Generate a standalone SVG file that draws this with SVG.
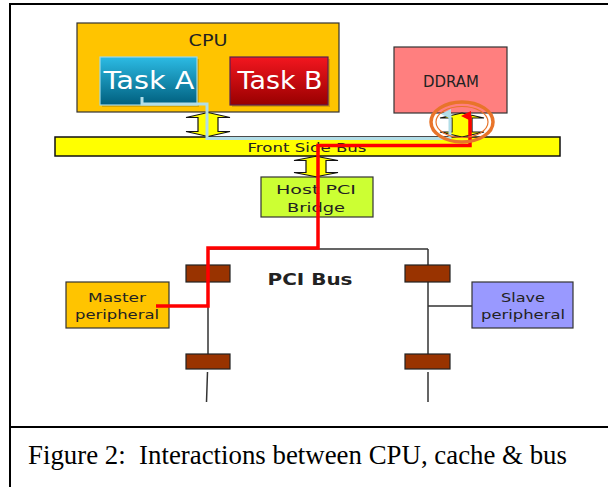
<svg xmlns="http://www.w3.org/2000/svg" width="608" height="487" viewBox="0 0 608 487">
  <defs>
    <linearGradient id="gradA" x1="0" y1="0" x2="0" y2="1">
      <stop offset="0" stop-color="#2CBBE4"/>
      <stop offset="1" stop-color="#005F7E"/>
    </linearGradient>
    <linearGradient id="gradB" x1="0" y1="0" x2="0" y2="1">
      <stop offset="0" stop-color="#F3161F"/>
      <stop offset="1" stop-color="#980000"/>
    </linearGradient>
    <marker id="headRed" viewBox="0 0 10 10" refX="5" refY="9" markerWidth="10" markerHeight="10" markerUnits="userSpaceOnUse" orient="auto-start-reverse">
      <path d="M0,10 L5,0 L10,10 Z" fill="#FF0000"/>
    </marker>
    <marker id="headBlue" viewBox="0 0 10 10" refX="5" refY="9" markerWidth="10" markerHeight="10" markerUnits="userSpaceOnUse" orient="auto-start-reverse">
      <path d="M0,10 L5,0 L10,10 Z" fill="#B2DEE8"/>
    </marker>
    <!-- bidirectional block arrow, centred on 0,0, 24 high -->
    <polygon id="udArrow" points="0,-12 -22,-7 -10,-7 -10,7 -22,7 0,12 22,7 10,7 10,-7 22,-7"/>
  </defs>
  <style>
    .frame { fill: none; stroke: #000; stroke-width: 2; }
    .box { stroke: #333; stroke-width: 1.2; }
    .lbl { font-family: "DejaVu Sans", Verdana, sans-serif; fill: #222; text-anchor: middle; }
    .task { font-family: "DejaVu Sans", Verdana, sans-serif; fill: #FFFFFF; font-size: 24px; text-anchor: middle; }
    .bus { stroke: #333; stroke-width: 1.5; fill: none; }
    .stub { fill: #993300; stroke: #222; stroke-width: 1.2; }
    .dbl { fill: #FFFF00; stroke: #111; stroke-width: 1.2; }
    .red { stroke: #FF0000; stroke-width: 3.5; fill: none; stroke-linejoin: miter; }
    .blue { stroke: #B2DEE8; stroke-width: 3; fill: none; }
    .cap { font-family: "Liberation Serif", "Times New Roman", serif; font-size: 26.5px; fill: #000; white-space: pre; }
  </style>

  <rect width="608" height="487" fill="#FFFFFF"/>

  <!-- page frame and caption divider -->
  <path class="frame" d="M10,487 V4 H610 M10,427 H610"/>
  <text class="cap" x="28" y="464" xml:space="preserve" textLength="539" lengthAdjust="spacingAndGlyphs">Figure 2:  Interactions between CPU, cache &amp; bus</text>

  <g id="cpu">
    <rect class="box" x="77" y="23" width="262" height="89" fill="#FFC400"/>
    <text class="lbl" x="208" y="46" font-size="15" textLength="39" lengthAdjust="spacingAndGlyphs">CPU</text>
  </g>

  <g id="task-a">
    <rect x="102" y="59" width="97" height="48" fill="#B08400" opacity="0.5"/>
    <rect x="100" y="57" width="97" height="48" fill="url(#gradA)" stroke="#9ED8E6" stroke-width="1.2"/>
    <text class="task" x="149" y="89" textLength="91" lengthAdjust="spacingAndGlyphs">Task A</text>
  </g>

  <g id="task-b">
    <rect x="232" y="59" width="98" height="48" fill="#B08400" opacity="0.5"/>
    <rect x="230" y="57" width="98" height="48" fill="url(#gradB)" stroke="#5A2050" stroke-width="1.2"/>
    <text class="task" x="280" y="89" textLength="85" lengthAdjust="spacingAndGlyphs">Task B</text>
  </g>

  <g id="ddram">
    <rect class="box" x="394" y="47" width="113" height="66" fill="#FF7F7F"/>
    <text class="lbl" x="451" y="87" font-size="16" textLength="56" lengthAdjust="spacingAndGlyphs">DDRAM</text>
  </g>

  <g id="front-side-bus">
    <rect x="55" y="137" width="505" height="19" fill="#FFFF00" stroke="#111" stroke-width="1.5"/>
    <text class="lbl" x="307" y="152" font-size="13" fill="#111" textLength="119" lengthAdjust="spacingAndGlyphs">Front Side Bus</text>
  </g>

  <g id="host-pci-bridge">
    <rect class="box" x="261" y="177" width="112" height="40" fill="#CCFF33"/>
    <text class="lbl" x="316" y="194" font-size="13" textLength="80" lengthAdjust="spacingAndGlyphs">Host PCI</text>
    <text class="lbl" x="316" y="212" font-size="13" textLength="58" lengthAdjust="spacingAndGlyphs">Bridge</text>
  </g>

  <g id="pci-bus-label">
    <text class="lbl" x="310" y="285" font-size="16" font-weight="bold" textLength="85" lengthAdjust="spacingAndGlyphs">PCI Bus</text>
  </g>

  <g id="master-peripheral">
    <rect class="box" x="66" y="282" width="103" height="46" fill="#FFC400"/>
    <text class="lbl" x="117" y="302" font-size="13" textLength="58" lengthAdjust="spacingAndGlyphs">Master</text>
    <text class="lbl" x="117" y="319" font-size="13" textLength="84" lengthAdjust="spacingAndGlyphs">peripheral</text>
  </g>

  <g id="slave-peripheral">
    <rect class="box" x="472" y="282" width="101" height="46" fill="#9999FF"/>
    <text class="lbl" x="523" y="302" font-size="13" textLength="44" lengthAdjust="spacingAndGlyphs">Slave</text>
    <text class="lbl" x="523" y="319" font-size="13" textLength="84" lengthAdjust="spacingAndGlyphs">peripheral</text>
  </g>

  <g id="connectors">
    <!-- PCI bus wiring -->
    <path class="bus" d="M208,249 H428 M208,249 V369 M207.5,372 L206.5,402 M428,249 V369 M428,372 V402 M428,306 H472"/>
    <rect class="stub" x="186" y="265" width="44" height="17"/>
    <rect class="stub" x="186" y="354" width="44" height="15"/>
    <rect class="stub" x="405" y="265" width="45" height="17"/>
    <rect class="stub" x="405" y="354" width="45" height="15"/>

    <!-- bus transceivers -->
    <use href="#udArrow" class="dbl" x="208" y="124.5"/>
    <use href="#udArrow" class="dbl" x="462" y="125"/>
    <use href="#udArrow" class="dbl" x="316" y="166.5" transform="translate(316,166.5) scale(1,0.85) translate(-316,-166.5)"/>

    <!-- Task A to DDRAM path -->
    <path class="blue" d="M142,97 V104 H207 V138.5 H450 V114" marker-end="url(#headBlue)"/>

    <!-- master peripheral to DDRAM path -->
    <path class="red" d="M156,306 H208 V248 H318 V145.5 H470 V116" marker-end="url(#headRed)"/>

    <!-- highlight ring -->
    <ellipse cx="462" cy="122" rx="31" ry="20" fill="none" stroke="#E8742A" stroke-width="3.5"/>
    <ellipse cx="462" cy="122" rx="26" ry="15.5" fill="none" stroke="#E8742A" stroke-width="1.2"/>
  </g>
</svg>
